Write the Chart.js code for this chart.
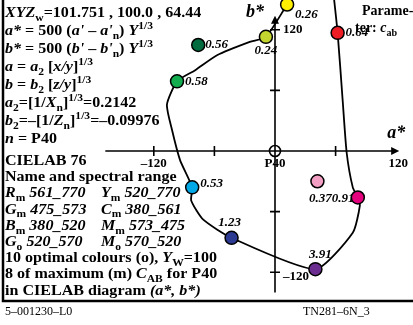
<!DOCTYPE html>
<html>
<head>
<meta charset="utf-8">
<script src="https://cdn.jsdelivr.net/npm/chart.js@4.4.0/dist/chart.umd.min.js"></script>
<style>
  html, body { margin: 0; padding: 0; background: #fff; overflow: hidden; }
  #wrap { width: 413px; height: 325px; position: relative; }
</style>
</head>
<body>
<div id="wrap"><canvas id="lab"></canvas></div>
<script>
// optimal colour boundary in (a*, b*) (runs past the top edge)
const curveA = [57, 62, 67, 71, 77, 82, 84, 77, 40, -43, -71, -83, -82, -94, -102, -107, -97, -79, -57, -25, -9, 12, 25, 57];
const curveB = [164, 117, 50, -2, -36, -46, -54, -81, -117, -86, -68, -49, -36, -9, 21, 46, 69, 80, 95, 108, 113, 145, 164, 164];

// colour samples: yellow, yellow-green, dark green, green, red, cyan, blue, violet, magenta, pink
const dotA = [12, -9, -76, -97, 62, -82, -43, 40, 82, 42];
const dotB = [145, 113, 105, 69, 117, -36, -86, -117, -46, -30];
const dotLabels = ['0.26', '0.24', '0.56', '0.58', '0.64', '0.53', '1.23', '3.91', '0.91', '0.37'];

const xTicks = [-120, -60, 60];
const yTicks = [120, 60, -60, -120];

// styles kept apart from the values
const dotColors = ['#fff000', '#c3d52e', '#006b3f', '#13ad4f', '#ee1c25', '#00a9e6', '#2c3a91', '#6b2e90', '#e5007d', '#f29fc3'];
// label offset from dot centre: dx, dy, align
const labelPos = [[8, 10, 'left'], [0, 14, 'center'], [7, 0, 'left'], [8, 0, 'left'], [8, 0, 'left'],
                  [8, -4, 'left'], [-2, -15, 'center'], [5, -15, 'center'], [-26, 1, 'left'], [3, 17, 'center']];

const SERIF = '"Liberation Serif", "DejaVu Serif", serif';
const PX = 1.01;            // pixels per CIELAB unit
const OX = 275, OY = 151;   // where a*=0, b*=0 sits
const W = 413, H = 325;

// left text block: [text, style]  b=bold, i=bold italic, _=subscript, ^=superscript
const infoLines = [
  [['XYZ', 'i'], ['w', 'b_'], ['=101.751 , 100.0 , 64.44', 'b']],
  [['a*', 'i'], [' = 500 (', 'b'], ["a'", 'i'], [' \u2013 ', 'b'], ["a'", 'i'], ['n', 'b_'], [') ', 'b'], ['Y', 'i'], ['1/3', 'b^']],
  [['b*', 'i'], [' = 500 (', 'b'], ["b'", 'i'], [' \u2013 ', 'b'], ["b'", 'i'], ['n', 'b_'], [') ', 'b'], ['Y', 'i'], ['1/3', 'b^']],
  [['a', 'i'], [' = ', 'b'], ['a', 'i'], ['2', 'b_'], [' [', 'b'], ['x/y', 'i'], [']', 'b'], ['1/3', 'b^']],
  [['b', 'i'], [' = ', 'b'], ['b', 'i'], ['2', 'b_'], [' [', 'b'], ['z/y', 'i'], [']', 'b'], ['1/3', 'b^']],
  [['a', 'i'], ['2', 'b_'], ['=[1/', 'b'], ['X', 'i'], ['n', 'b_'], [']', 'b'], ['1/3', 'b^'], ['=0.2142', 'b']],
  [['b', 'i'], ['2', 'b_'], ['=\u2013[1/', 'b'], ['Z', 'i'], ['n', 'b_'], [']', 'b'], ['1/3', 'b^'], ['=\u20130.09976', 'b']],
  [['n', 'i'], [' = P40', 'b']],
  [['CIELAB 76', 'b']],
  [['Name and spectral range', 'b']],
  [['R', 'i'], ['m', 'b_'], [' 561_770', 'i'], ['|'], ['Y', 'i'], ['m', 'b_'], [' 520_770', 'i']],
  [['G', 'i'], ['m', 'b_'], [' 475_573', 'i'], ['|'], ['C', 'i'], ['m', 'b_'], [' 380_561', 'i']],
  [['B', 'i'], ['m', 'b_'], [' 380_520', 'i'], ['|'], ['M', 'i'], ['m', 'b_'], [' 573_475', 'i']],
  [['G', 'i'], ['o', 'b_'], [' 520_570', 'i'], ['|'], ['M', 'i'], ['o', 'b_'], [' 570_520', 'i']],
  [['10 optimal colours (o), ', 'b'], ['Y', 'i'], ['W', 'b_'], ['=100', 'b']],
  [['8 of maximum (m) ', 'b'], ['C', 'i'], ['AB', 'b_'], [' for P40', 'b']],
  [['in CIELAB diagram ', 'b'], ['(a*, b*)', 'i']]
];

// draws mixed-style text; sx stretches the glyphs sideways
function rich(ctx, x, y, segs, fs, x2, sx) {
  sx = sx || 1;
  for (const [t, st] of segs) {
    if (t === '|') { x = x2; continue; }
    let size = fs, dy = 0;
    if (st.includes('_')) { size = fs * 0.72; dy = fs * 0.25; }
    if (st.includes('^')) { size = fs * 0.72; dy = -fs * 0.4; }
    ctx.font = (st.includes('i') ? 'italic bold ' : 'bold ') + size + 'px ' + SERIF;
    ctx.save();
    ctx.translate(x, y + dy);
    ctx.scale(sx, 1);
    ctx.fillText(t, 0, 0);
    ctx.restore();
    x += ctx.measureText(t).width * sx;
  }
}

// the formula lines sit a little further apart than the lines under the a* axis
function lineY(i) {
  return i < 8 ? 12 + 18 * i : 160 + 16.2 * (i - 8);
}

const labPlugin = {
  id: 'labDiagram',
  beforeDatasetsDraw(chart) {
    const ctx = chart.ctx;
    const X = v => chart.scales.x.getPixelForValue(v);
    const Y = v => chart.scales.y.getPixelForValue(v);
    ctx.save();
    ctx.strokeStyle = '#000';
    ctx.fillStyle = '#000';

    // frame
    ctx.lineWidth = 2.5;
    ctx.beginPath();
    ctx.moveTo(3, 0); ctx.lineTo(3, 301); ctx.lineTo(W, 301);
    ctx.stroke();

    // axes
    ctx.lineWidth = 1.6;
    ctx.beginPath();
    ctx.moveTo(X(-168), Y(0)); ctx.lineTo(X(118), Y(0));
    ctx.moveTo(X(0), Y(-140)); ctx.lineTo(X(0), Y(130));
    for (const t of xTicks) { ctx.moveTo(X(t), Y(0) - 5); ctx.lineTo(X(t), Y(0) + 5); }
    for (const t of yTicks) { ctx.moveTo(X(0) - 5, Y(t)); ctx.lineTo(X(0) + 5, Y(t)); }
    ctx.stroke();
    ctx.beginPath();
    ctx.arc(X(0), Y(0), 5.5, 0, Math.PI * 2);
    ctx.stroke();
    // arrow heads
    ctx.beginPath();
    ctx.moveTo(X(123), Y(0)); ctx.lineTo(X(115), Y(0) - 4); ctx.lineTo(X(115), Y(0) + 4); ctx.closePath();
    ctx.moveTo(X(0), Y(134)); ctx.lineTo(X(0) - 4, Y(126)); ctx.lineTo(X(0) + 4, Y(126)); ctx.closePath();
    ctx.fill();

    // tick labels
    ctx.font = 'bold 13px ' + SERIF;
    ctx.textBaseline = 'middle';
    ctx.textAlign = 'center';
    ctx.fillText('\u2013120', X(-120), Y(0) + 13);
    ctx.fillText('120', X(122), Y(0) + 13);
    ctx.fillText('P40', X(0), Y(0) + 13);
    ctx.textAlign = 'left';
    ctx.fillText('120', X(0) + 8, Y(120));
    ctx.fillText('\u2013120', X(0) + 8, Y(-120) + 4);
    ctx.font = 'italic bold 18px ' + SERIF;
    ctx.textAlign = 'center';
    ctx.fillText('b*', X(0) - 20, 12);
    ctx.fillText('a*', X(122) - 2, Y(0) - 18);

    // left text block
    ctx.textAlign = 'left';
    ctx.textBaseline = 'alphabetic';
    infoLines.forEach((segs, i) => rich(ctx, 5, lineY(i) + 5, segs, 15, 101, 1.07));

    // parameter note, top right
    ctx.font = 'bold 14px ' + SERIF;
    ctx.fillText('Parame-', 362, 15);
    rich(ctx, 355, 32, [['ter: ', 'b'], ['c', 'i'], ['ab', 'b_']], 14, 0);

    // footer
    ctx.font = '12px ' + SERIF;
    ctx.fillText('5\u2013001230\u2013L0', 5, 315);
    ctx.fillText('TN281\u20136N_3', 303, 315);
    ctx.restore();
  },
  afterDatasetDraw(chart, args) {
    if (args.index !== 1) return;   // labels go above the curve, under the dots
    const ctx = chart.ctx;
    const X = v => chart.scales.x.getPixelForValue(v);
    const Y = v => chart.scales.y.getPixelForValue(v);
    ctx.save();
    ctx.fillStyle = '#000';
    ctx.font = 'italic bold 13px ' + SERIF;
    ctx.textBaseline = 'middle';
    dotLabels.forEach((t, i) => {
      const [dx, dy, al] = labelPos[i];
      ctx.textAlign = al;
      ctx.fillText(t, X(dotA[i]) + dx, Y(dotB[i]) + dy);
    });
    ctx.restore();
  }
};

const ctx = document.getElementById('lab').getContext('2d');
new Chart(ctx, {
  type: 'scatter',
  data: {
    datasets: [
      {
        label: 'samples',
        data: dotA.map((a, i) => ({ x: a, y: dotB[i] })),
        pointRadius: 6.5,
        pointBackgroundColor: dotColors,
        pointBorderColor: '#000',
        pointBorderWidth: 1.5,
        showLine: false
      },
      {
        label: 'boundary',
        data: curveA.map((a, i) => ({ x: a, y: curveB[i] })),
        showLine: true,
        pointRadius: 0,
        borderColor: '#000',
        borderWidth: 1.8,
        tension: 0.2
      }
    ]
  },
  options: {
    responsive: true,
    maintainAspectRatio: false,
    animation: false,
    devicePixelRatio: 1,
    layout: { padding: 0, autoPadding: false },
    plugins: { legend: { display: false }, tooltip: { enabled: false } },
    scales: {
      x: { type: 'linear', display: false, min: -OX / PX, max: (W - OX) / PX },
      y: { type: 'linear', display: false, min: -(H - OY) / PX, max: OY / PX }
    }
  },
  plugins: [labPlugin]
});
</script>
</body>
</html>
